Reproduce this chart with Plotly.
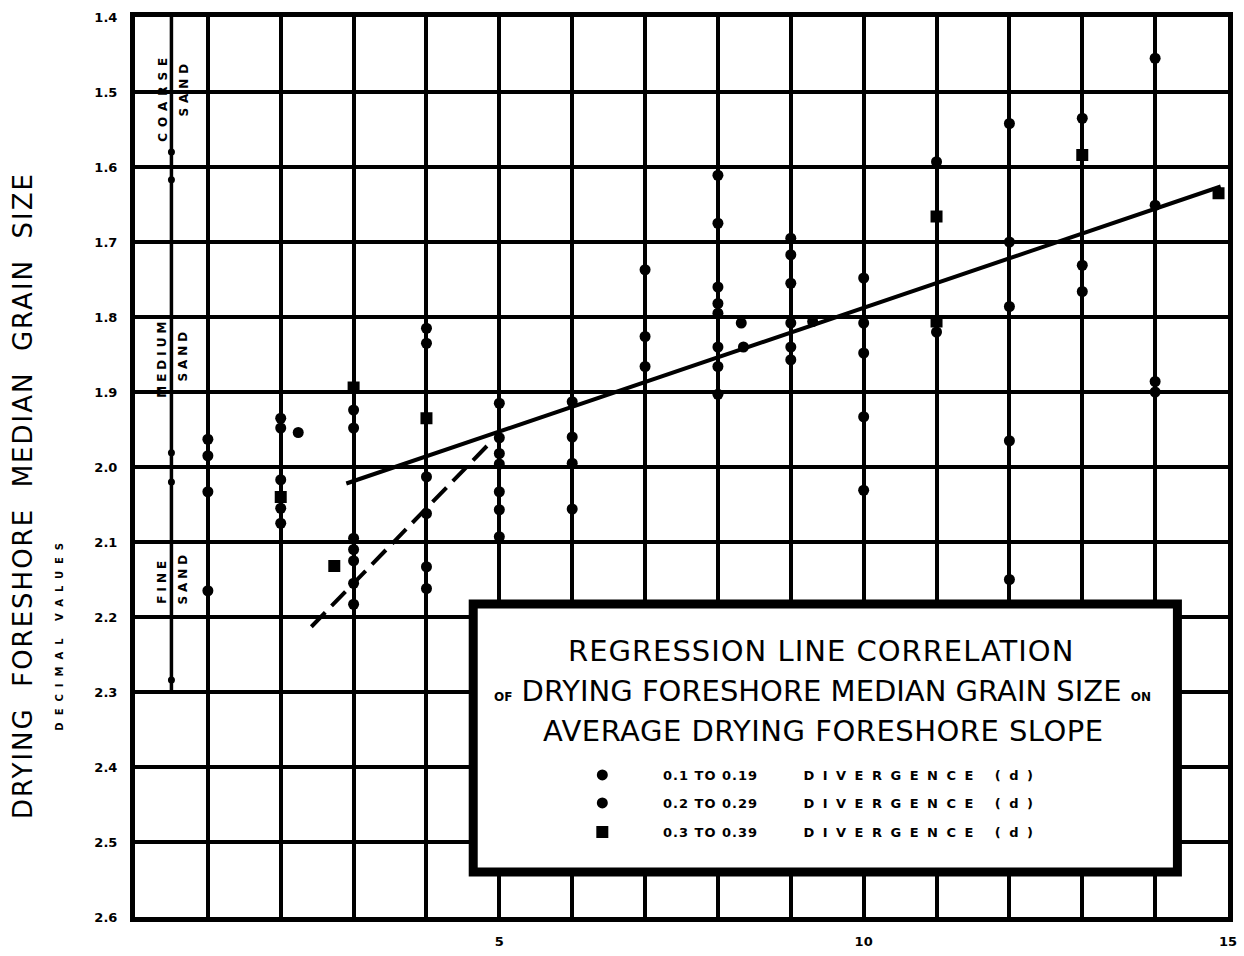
import plotly.graph_objects as go

# ---------------- data ----------------
# divergence 0.1 to 0.19 (circles)
a_x = [1, 1, 1, 1,
       2, 2, 2, 2, 2,
       3, 3, 3, 3, 3, 3, 3,
       4, 4, 4, 4, 4,
       5, 5, 5, 5, 5, 5, 5,
       6, 6, 6, 6,
       7, 7, 7,
       8, 8, 8, 8, 8, 8, 8, 8,
       9, 9, 9, 9, 9, 9,
       10, 10, 10, 10, 10,
       11, 11,
       13, 13, 13]
a_y = [1.963, 1.985, 2.033, 2.165,
       1.935, 1.948, 2.017, 2.055, 2.075,
       1.924, 1.948, 2.095, 2.110, 2.125, 2.155, 2.183,
       1.815, 1.835, 2.013, 2.062, 2.133,
       1.915, 1.961, 1.982, 1.996, 2.033, 2.057, 2.093,
       1.913, 1.960, 1.995, 2.056,
       1.737, 1.826, 1.866,
       1.611, 1.675, 1.760, 1.782, 1.795, 1.840, 1.866, 1.903,
       1.695, 1.717, 1.755, 1.808, 1.840, 1.857,
       1.748, 1.808, 1.848, 1.933, 2.031,
       1.593, 1.820,
       1.535, 1.731, 1.766]

# divergence 0.2 to 0.29 (circles)
b_x = [2.24, 4, 8.32, 8.35, 9.3, 12, 12, 12, 12, 12, 14, 14, 14, 14]
b_y = [1.954, 2.162, 1.808, 1.840, 1.806, 1.542, 1.700, 1.786, 1.965, 2.150,
       1.455, 1.651, 1.886, 1.900]

# divergence 0.3 to 0.39 (squares)
c_x = [2, 2.735, 3, 4, 11, 11, 13, 14.87]
c_y = [2.040, 2.132, 1.894, 1.935, 1.666, 1.806, 1.584, 1.635]

# regression lines
reg_x = [2.9, 14.9]
reg_y = [2.022, 1.626]
dash_x = [2.42, 4.9]
dash_y = [2.213, 1.965]

# grain size class bar
bar_x = [0.5, 0.5]
bar_y = [1.4, 2.3]
bar_dot_y = [1.580, 1.617, 1.981, 2.020, 2.284]

x_ticks = list(range(0, 16))
x_ticktext = ["", "", "", "", "", "5", "", "", "", "", "10", "", "", "", "", "15"]
y_ticks = [1.4, 1.5, 1.6, 1.7, 1.8, 1.9, 2.0, 2.1, 2.2, 2.3, 2.4, 2.5, 2.6]
y_ticktext = ["1.4", "1.5", "1.6", "1.7", "1.8", "1.9", "2.0", "2.1", "2.2",
              "2.3", "2.4", "2.5", "2.6"]

legend_names = ["0.1 TO 0.19", "0.2 TO 0.29", "0.3 TO 0.39"]

# ---------------- figure ----------------
W, H = 1244, 956
ML, MR, MT, MB = 135, 7, 17, 39
PW, PH = W - ML - MR, H - MT - MB


def px(xp):
    return (xp - ML) / PW


def py(yp):
    return (H - MB - yp) / PH


FONT = "DejaVu Sans"
fig = go.Figure()

fig.add_trace(go.Scatter(x=bar_x, y=bar_y, mode="lines",
                         line=dict(color="black", width=3.5),
                         showlegend=False, hoverinfo="skip"))
fig.add_trace(go.Scatter(x=[0.5] * len(bar_dot_y), y=bar_dot_y, mode="markers",
                         marker=dict(color="black", size=7),
                         showlegend=False, hoverinfo="skip"))
fig.add_trace(go.Scatter(x=reg_x, y=reg_y, mode="lines",
                         line=dict(color="black", width=4),
                         showlegend=False))
fig.add_trace(go.Scatter(x=dash_x, y=dash_y, mode="lines",
                         line=dict(color="black", width=4, dash="20px,9px"),
                         showlegend=False))


def leg_name(s):
    return ("\u00a0" * 9
            + "<span style='letter-spacing:1px'>" + s + "</span>"
            + "\u00a0" * 10
            + "<span style='letter-spacing:8.5px'>DIVERGENCE (d)</span>")


fig.add_trace(go.Scatter(x=a_x, y=a_y, mode="markers", name=leg_name(legend_names[0]),
                         marker=dict(color="black", size=11, symbol="circle"),
                         legend="legend"))
fig.add_trace(go.Scatter(x=b_x, y=b_y, mode="markers", name=leg_name(legend_names[1]),
                         marker=dict(color="black", size=11, symbol="circle"),
                         legend="legend2"))
fig.add_trace(go.Scatter(x=c_x, y=c_y, mode="markers", name=leg_name(legend_names[2]),
                         marker=dict(color="black", size=12, symbol="square"),
                         legend="legend3"))

leg_common = dict(xanchor="left", yanchor="middle", bgcolor="rgba(0,0,0,0)",
                  borderwidth=0, font=dict(family=FONT, size=13, color="black", weight="bold"))
leg_x = px(586)

fig.update_layout(
    width=W, height=H,
    margin=dict(l=ML, r=MR, t=MT, b=MB),
    paper_bgcolor="white", plot_bgcolor="white",
    showlegend=True,
    legend=dict(x=leg_x, y=py(775), **leg_common),
    legend2=dict(x=leg_x, y=py(803), **leg_common),
    legend3=dict(x=leg_x, y=py(832), **leg_common),
    xaxis=dict(range=[0, 15], tickvals=x_ticks, ticktext=x_ticktext,
               showgrid=True, gridcolor="black", gridwidth=3.5,
               showline=True, linecolor="black", linewidth=5, mirror=True,
               zeroline=False, ticks="", ticklabelstandoff=8,
               tickfont=dict(family=FONT, size=13, color="black", weight="bold")),
    yaxis=dict(range=[2.6, 1.4], tickvals=y_ticks, ticktext=y_ticktext,
               showgrid=True, gridcolor="black", gridwidth=3.5,
               showline=True, linecolor="black", linewidth=5, mirror=True,
               zeroline=False, ticks="", ticklabelstandoff=10,
               tickfont=dict(family=FONT, size=13, color="black", weight="bold")),
)

# legend box
fig.add_shape(type="rect", xref="paper", yref="paper",
              x0=px(476), x1=px(1186), y0=py(872), y1=py(604),
              fillcolor="white", line=dict(color="black", width=9), layer="above")

ann = []
# box titles
ann.append(dict(x=px(827), y=py(651),
                text="<span style='letter-spacing:1px'>REGRESSION LINE CORRELATION</span>",
                font=dict(family=FONT, size=29, color="black")))
ann.append(dict(x=px(828), y=py(691),
                text="<span style='font-size:12px'><b>OF</b></span> DRYING FORESHORE MEDIAN GRAIN SIZE "
                     "<span style='font-size:12px'><b>ON</b></span>",
                font=dict(family=FONT, size=29, color="black")))
ann.append(dict(x=px(829), y=py(731),
                text="<span style='letter-spacing:0.5px'>AVERAGE DRYING FORESHORE SLOPE</span>",
                font=dict(family=FONT, size=29, color="black")))
# y-axis titles
ann.append(dict(x=px(22), y=py(495), textangle=-90,
                text="<span style='letter-spacing:2px'>DRYING  FORESHORE  MEDIAN  GRAIN  SIZE</span>",
                font=dict(family=FONT, size=26, color="black")))
ann.append(dict(x=px(58), y=py(633), textangle=-90,
                text="<span style='letter-spacing:7px'>DECIMAL VALUES</span>",
                font=dict(family=FONT, size=10, color="black", weight="bold")))
# sand class labels
for word, xpix, ypix, sp in [("COARSE", 163, 97, 6), ("SAND", 184, 88, 5),
                             ("MEDIUM", 162, 358, 4), ("SAND", 183, 355, 4),
                             ("FINE", 162, 580, 4), ("SAND", 183, 578, 4)]:
    ann.append(dict(x=px(xpix), y=py(ypix), textangle=-90,
                    text="<span style='letter-spacing:%dpx'>%s</span>" % (sp, word),
                    font=dict(family=FONT, size=12, color="black", weight="bold")))

for a in ann:
    a.update(xref="paper", yref="paper", showarrow=False,
             xanchor="center", yanchor="middle")
    fig.add_annotation(**a)

fig.write_html("out.html")
